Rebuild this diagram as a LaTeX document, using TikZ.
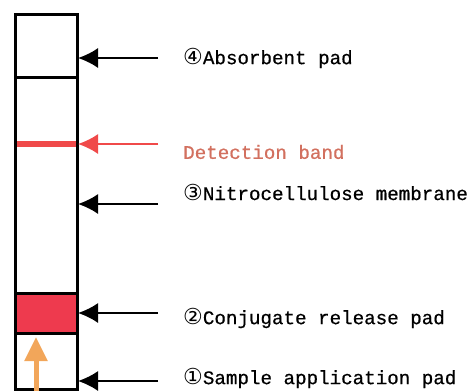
\documentclass[tikz,border=0pt]{standalone}
\usepackage{fontspec}
\newfontfamily\labelfont[FakeBold=0.6]{Liberation Mono}
\newfontfamily\circfont{DejaVu Sans}
\usetikzlibrary{arrows.meta}
\definecolor{stripred}{HTML}{EE3A4E}
\definecolor{bandred}{HTML}{F04A4A}
\definecolor{bandtext}{HTML}{D2705F}
\definecolor{flowgold}{HTML}{F2A65A}
\tikzset{
  stripline/.style={line width=3pt, draw=black},
  pointer/.style={
    -{Latex[length=20pt,width=20pt]},
    line width=1.8pt,
    draw=black
  },
  bandpointer/.style={
    -{Latex[length=20pt,width=20pt]},
    line width=1.8pt,
    draw=bandred,
    fill=bandred
  },
  flowarrow/.style={
    -{Triangle[length=24pt,width=22pt]},
    line width=5pt,
    draw=flowgold
  },
  partlabel/.style={
    anchor=west,
    inner sep=0pt,
    font=\fontsize{19.2}{22}\labelfont
  }
}
\newcommand{\circnum}[1]{{\circfont\fontsize{22}{22}\selectfont #1}}

\begin{document}
\begin{tikzpicture}[x=1pt,y=-1pt]
\useasboundingbox (0,0) rectangle (473,391);
% test strip
\fill[stripred] (15,293) rectangle (77,333);
\draw[bandred, line width=6pt] (15,144) -- (77,144);
\draw[stripline] (15,14) rectangle (77,389);
\draw[stripline] (15,77) -- (77,77);
\draw[stripline] (15,293) -- (77,293);
\draw[stripline] (15,333) -- (77,333);
% sample flow
\coordinate (flowstart) at (36,391);
\coordinate (flowend) at (36,337);
\draw[flowarrow] (flowstart) -- (flowend);
% points on the strip edge
\coordinate (absorbtip) at (78,58);
\coordinate (bandtip) at (78,144);
\coordinate (membranetip) at (78,204);
\coordinate (conjugatetip) at (78,313);
\coordinate (sampletip) at (78,381);
% arrow tails
\coordinate (absorbtail) at (158,58);
\coordinate (bandtail) at (158,144);
\coordinate (membranetail) at (158,204);
\coordinate (conjugatetail) at (158,313);
\coordinate (sampletail) at (158,381);
\draw[pointer] (absorbtail) -- (absorbtip);
\draw[bandpointer] (bandtail) -- (bandtip);
\draw[pointer] (membranetail) -- (membranetip);
\draw[pointer] (conjugatetail) -- (conjugatetip);
\draw[pointer] (sampletail) -- (sampletip);
% labels
\node[partlabel] (absorb) at (183,58) {\circnum{④}Absorbent pad};
\node[partlabel, text=bandtext] (band) at (183,152) {Detection band};
\node[partlabel] (membrane) at (183,192) {\circnum{③}Nitrocellulose membrane};
\node[partlabel] (conjugate) at (183,318) {\circnum{②}Conjugate release pad};
\node[partlabel] (sample) at (183,378) {\circnum{①}Sample application pad};
\end{tikzpicture}
\end{document}
